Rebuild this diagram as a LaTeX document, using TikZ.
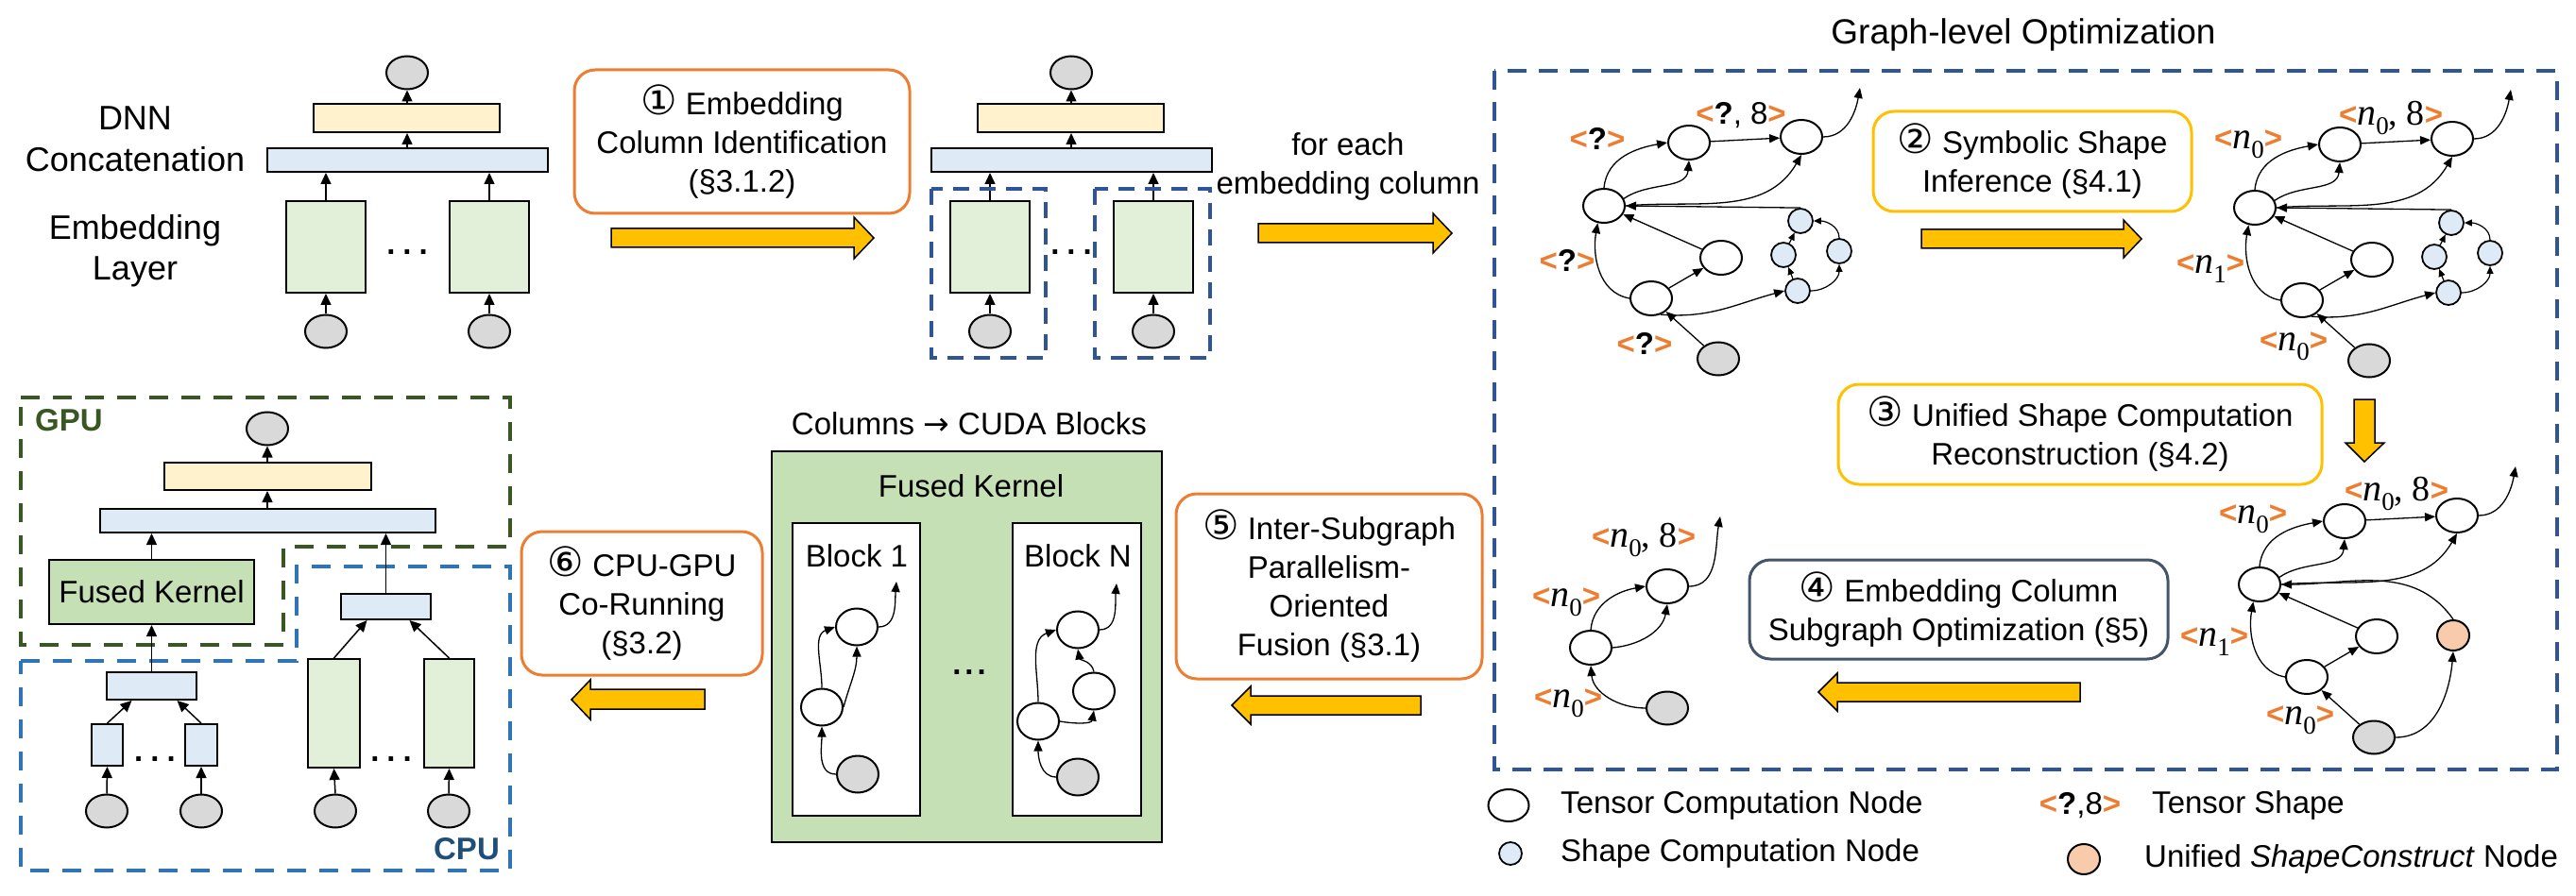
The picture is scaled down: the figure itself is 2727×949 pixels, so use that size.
\documentclass[tikz,border=0pt]{standalone}
\usepackage{fontspec}
\setmainfont{Liberation Sans}
\newfontfamily\dejavu{DejaVu Sans}
\newfontfamily\serifn{Liberation Serif}
\usetikzlibrary{shapes.geometric, arrows.meta}
\definecolor{cOrange}{HTML}{ED7D31}
\definecolor{cYellow}{HTML}{FFC000}
\definecolor{cSlate}{HTML}{44546A}
\definecolor{cDash}{HTML}{2F5597}
\definecolor{cCPU}{HTML}{2E75B6}
\definecolor{cGPU}{HTML}{385723}
\definecolor{cCPUtxt}{HTML}{1F4E79}
\definecolor{cGray}{HTML}{D9D9D9}
\definecolor{cLBlue}{HTML}{DEEBF7}
\definecolor{cLYellow}{HTML}{FFF2CC}
\definecolor{cLGreen}{HTML}{E2F0D9}
\definecolor{cFK}{HTML}{C5E0B4}
\definecolor{cPeach}{HTML}{F8CBAD}
\newcommand\shp[1]{{\color{cOrange}\bfseries<}#1{\color{cOrange}\bfseries>}}
\newcommand\nsym[1]{{\serifn\itshape\fontsize{40}{40}\selectfont n}\raisebox{-0.3em}{\fontsize{27}{27}\selectfont\serifn #1}}
\newcommand\cnum[1]{{\dejavu\fontsize{43}{41}\selectfont #1}}
\newcommand\coldiag[1]{%
 \node[gnode] (#1T) at (431,77) {};
 \node[blk, fill=cLYellow, minimum width=197pt, minimum height=30pt] (#1Y) at (430.5,125) {};
 \node[blk, fill=cLBlue, minimum width=297pt, minimum height=25pt] (#1C) at (431.5,169.5) {};
 \node[blk, fill=cLGreen, minimum width=84pt, minimum height=97pt] (#1L) at (345,261.5) {};
 \node[blk, fill=cLGreen, minimum width=84pt, minimum height=97pt] (#1R) at (518,261.5) {};
 \node[gnode] (#1EL) at (345,351) {};
 \node[gnode] (#1ER) at (518,351) {};
 \node[dotsn] (#1D) at (431,267) {.\hspace{8pt}.\hspace{8pt}.};
 \draw[carr] (#1Y.north -| #1T) -- (#1T.south);
 \draw[carr] (#1C.north -| #1T) -- (#1Y.south -| #1T);
 \draw[carr] (#1L.north) -- (#1L.north |- #1C.south);
 \draw[carr] (#1R.north) -- (#1R.north |- #1C.south);
 \draw[carr] (#1EL.north) -- (#1L.south);
 \draw[carr] (#1ER.north) -- (#1R.south);
}
\newcommand\gcore[1]{%
 \node[tnode] (#1A) at (1698,218) {};
 \node[tnode] (#1B) at (1788,151) {};
 \node[tnode] (#1C) at (1907,145) {};
 \node[tnode] (#1D) at (1822,273) {};
 \node[tnode] (#1E) at (1748,316) {};
 \node[gnode] (#1G) at (1819,380) {};
 \coordinate (#1o) at (1969,93);
 \draw[arr] (#1A.north) to[out=85,in=190] (#1B.west);
 \draw[arr] (#1A.20) to[out=35,in=-95] (#1B.south);
 \draw[arr] (#1B) -- (#1C);
 \draw[arr] (#1A.east) to[out=5,in=-120] (#1C.south);
 \draw[arr] (#1D) -- (#1A);
 \draw[arr] (#1E.west) to[out=170,in=-100] (#1A.250);
 \draw[arr] (#1E) -- (#1D);
 \draw[arr] (#1G) -- (#1E);
 \draw[arr] (#1C.east) to[out=0,in=-100] (#1o);
}
\newcommand\gshape[1]{%
 \node[snode] (#1S1) at (1906,234) {};
 \node[snode] (#1S2) at (1888,270) {};
 \node[snode] (#1S3) at (1947,266) {};
 \node[snode] (#1S4) at (1903,308) {};
 \draw[arr] (#1S1.north) -- (#1A.east);
 \draw[arr] (#1E.-60) to[out=-5,in=195] (#1S4.west);
 \draw[sarr] (#1S4) -- (#1S2);
 \draw[sarr] (#1S2) -- (#1S1);
 \draw[sarr] (#1S4.east) to[out=0,in=-90] (#1S3.south);
 \draw[sarr] (#1S3.north) to[out=90,in=0] (#1S1.east);
}
\begin{document}
\begin{tikzpicture}[x=1pt,y=-1pt,
 txt/.style={font=\fontsize{33}{41}\selectfont, inner sep=0pt, align=center},
 rbox/.style={draw, rounded corners=22pt, line width=3pt, align=center, inner sep=0pt, fill=white, font=\fontsize{33}{41}\selectfont},
 tnode/.style={ellipse, draw, line width=2pt, fill=white, minimum width=44pt, minimum height=36pt, inner sep=0pt},
 gnode/.style={tnode, fill=cGray, minimum height=35pt},
 snode/.style={circle, draw, line width=1.8pt, fill=cLBlue, minimum size=26pt, inner sep=0pt},
 unode/.style={ellipse, draw, line width=2pt, fill=cPeach, minimum width=34pt, minimum height=32pt, inner sep=0pt},
 blk/.style={draw, line width=2pt, inner sep=0pt},
 dotsn/.style={font=\fontsize{33}{41}\selectfont\bfseries, inner sep=0pt},
 arr/.style={-{Triangle[length=11pt,width=9pt]}, line width=1.3pt},
 sarr/.style={-{Triangle[length=8pt,width=7pt]}, line width=1.2pt},
 carr/.style={-{Triangle[length=12pt,width=11pt]}, line width=1.5pt},
 yarr/.style={draw=black, line width=1.5pt, fill=cYellow},
 dbox/.style={draw=cDash, line width=4pt, dash pattern=on 18pt off 12pt},
 shl/.style={font=\fontsize{33}{38}\selectfont, inner sep=0pt},
]
\useasboundingbox (0,0) rectangle (2727,949);

% ---------- top-left: DNN model ----------
\node[font=\fontsize{36}{43}\selectfont, inner sep=0pt] (dnn) at (143,125) {DNN};
\node[font=\fontsize{36}{43}\selectfont, inner sep=0pt] (catl) at (143,169) {Concatenation};
\node[font=\fontsize{36}{43}\selectfont, inner sep=0pt, align=center] (embl) at (143,266) {Embedding\\Layer};
\coldiag{a}

% box 1 and arrow
\node[rbox, draw=cOrange, minimum width=355pt, minimum height=152pt] (b1) at (785.5,150)
 {\cnum{①} Embedding\\Column Identification\\(§3.1.2)};
\draw[yarr] (647,242) -- (904,242) -- (904,230) -- (925,252) -- (904,274) -- (904,262) -- (647,262) -- cycle;

% column diagram 2
\begin{scope}[shift={(703,0)}]
\coldiag{b}
\end{scope}
\draw[dbox, dash pattern=on 17pt off 11pt] (986,200) rectangle (1107,379);
\draw[dbox, dash pattern=on 17pt off 11pt] (1159,200) rectangle (1281,379);

\node[txt] (fe) at (1427,176) {for each\\embedding column};
\draw[yarr] (1332,237) -- (1517,237) -- (1517,226) -- (1537,247) -- (1517,268) -- (1517,257) -- (1332,257) -- cycle;

% ---------- graph-level optimization ----------
\node[font=\fontsize{37}{44}\selectfont, inner sep=0pt] (title) at (2142,37) {Graph-level Optimization};
\draw[dbox, dash pattern=on 20pt off 13pt] (1582,75) rectangle (2707,815);

% graph 1
\gcore{g1}
\gshape{g1}
\node[shl] (l11) at (1691,147) {\shp{\textbf{?}}};
\node[shl] (l12) at (1843,122) {\shp{\textbf{?}, 8}};
\node[shl] (l13) at (1659,276) {\shp{\textbf{?}}};
\node[shl] (l14) at (1741,364) {\shp{\textbf{?}}};

% box 2
\node[rbox, draw=cYellow, minimum width=337pt, minimum height=106pt] (b2) at (2151.5,171)
 {\cnum{②} Symbolic Shape\\Inference (§4.1)};
\draw[yarr] (2034,243) -- (2248,243) -- (2248,233) -- (2267,253) -- (2248,273) -- (2248,263) -- (2034,263) -- cycle;

% graph 2
\begin{scope}[shift={(689,2)}]
\gcore{g2}
\gshape{g2}
\end{scope}
\node[shl] (l21) at (2380,153) {\shp{\nsym{0}}};
\node[shl] (l22) at (2531,125) {\shp{\nsym{0}{\serifn\fontsize{38}{38}\selectfont, 8}}};
\node[shl] (l23) at (2340,285) {\shp{\nsym{1}}};
\node[shl] (l24) at (2428,367) {\shp{\nsym{0}}};

% box 3 and down arrow
\node[rbox, draw=cYellow, minimum width=512pt, minimum height=106pt] (b3) at (2202,460)
 {\cnum{③} Unified Shape Computation\\Reconstruction (§4.2)};
\draw[yarr] (2492,423) -- (2514,423) -- (2514,469) -- (2524,469) -- (2503,489) -- (2483,469) -- (2492,469) -- cycle;

% graph 3
\begin{scope}[shift={(694,401)}]
\gcore{g3}
\node[unode] (g3U) at (1903,272) {};
\draw[arr] (g3U.north) to[out=125,in=0] (g3A.east);
\draw[arr] (g3G.east) to[out=0,in=-95] (g3U.south);
\end{scope}
\node[shl] (l31) at (2385,550) {\shp{\nsym{0}}};
\node[shl] (l32) at (2537,523) {\shp{\nsym{0}{\serifn\fontsize{38}{38}\selectfont, 8}}};
\node[shl] (l33) at (2344,680) {\shp{\nsym{1}}};
\node[shl] (l34) at (2435,763) {\shp{\nsym{0}}};

% box 4 and arrow
\node[rbox, draw=cSlate, minimum width=443pt, minimum height=105pt] (b4) at (2073.5,645.5)
 {\cnum{④} Embedding Column\\Subgraph Optimization (§5)};
\draw[yarr] (2202,723) -- (1945,723) -- (1945,713) -- (1925,733) -- (1945,753) -- (1945,743) -- (2202,743) -- cycle;

% graph 4
\node[tnode] (g4A) at (1684,686) {};
\node[tnode] (g4B) at (1765,621) {};
\node[gnode] (g4G) at (1765,750) {};
\coordinate (g4o) at (1821,547);
\draw[arr] (g4A.north) to[out=85,in=190] (g4B.west);
\draw[arr] (g4A.east) to[out=5,in=-100] (g4B.south);
\draw[arr] (g4G.west) to[out=180,in=-85] (g4A.south);
\draw[arr] (g4B.east) to[out=0,in=-100] (g4o);
\node[shl] (l41) at (1740,572) {\shp{\nsym{0}{\serifn\fontsize{38}{38}\selectfont, 8}}};
\node[shl] (l42) at (1658,638) {\shp{\nsym{0}}};
\node[shl] (l43) at (1660,745) {\shp{\nsym{0}}};

% legend
\node[tnode, minimum width=43pt, minimum height=34pt] (lg1) at (1597,853) {};
\node[txt, anchor=west] (lt1) at (1652,853) {Tensor Computation Node};
\node[snode, minimum size=24pt] (lg2) at (1599,904) {};
\node[txt, anchor=west] (lt2) at (1652,904) {Shape Computation Node};
\node[shl] (lg3) at (2202,853) {\shp{\textbf{?},8}};
\node[txt, anchor=west] (lt3) at (2278,853) {Tensor Shape};
\node[unode] (lg4) at (2206,910) {};
\node[txt, anchor=west] (lt4) at (2270,910) {Unified \textit{ShapeConstruct} Node};

% box 5 and arrow
\node[rbox, draw=cOrange, minimum width=324pt, minimum height=196pt] (b5) at (1407,621)
 {\cnum{⑤} Inter-Subgraph\\Parallelism-\\Oriented\\Fusion (§3.1)};
\draw[yarr] (1504,737) -- (1324,737) -- (1324,727) -- (1304,747) -- (1324,767) -- (1324,757) -- (1504,757) -- cycle;

% ---------- fused kernel ----------
\node[txt] (cols) at (1026,449) {Columns {\dejavu →} CUDA Blocks};
\node[blk, fill=cFK, minimum width=413pt, minimum height=414pt] (fk) at (1023.5,685) {};
\node[txt] (fkl) at (1028,515) {Fused Kernel};
\node[blk, fill=white, minimum width=135pt, minimum height=310pt] (blk1) at (906.5,709) {};
\node[blk, fill=white, minimum width=136pt, minimum height=310pt] (blkN) at (1140,709) {};
\node[txt] (b1l) at (907,589) {Block 1};
\node[txt] (bNl) at (1141,589) {Block N};
\node[dotsn] (fkd) at (1026,712) {.\hspace{4pt}.\hspace{4pt}.};
% block 1 graph
\node[tnode, minimum height=39pt] (k1a) at (907,664) {};
\node[tnode, minimum height=39pt] (k1b) at (870,749) {};
\node[gnode, minimum height=39pt] (k1g) at (908,820) {};
\coordinate (k1o) at (949,616);
\draw[arr] (k1b.north) to[out=90,in=200] (k1a.west);
\draw[arr] (k1b.east) to[out=75,in=-90] (k1a.south);
\draw[arr] (k1g.west) to[out=180,in=-90] (k1b.south);
\draw[arr] (k1a.east) to[out=0,in=-95] (k1o);
% block N graph
\node[tnode, minimum height=39pt] (kNa) at (1141,667) {};
\node[tnode, minimum height=39pt] (kNc) at (1158,732) {};
\node[tnode, minimum height=39pt] (kNb) at (1099,764) {};
\node[gnode, minimum height=39pt] (kNg) at (1141,823) {};
\coordinate (kNo) at (1182,618);
\draw[arr] (kNb.north) to[out=90,in=200] (kNa.west);
\draw[arr] (kNb.east) to[out=-10,in=-100] (kNc.south);
\draw[arr] (kNc.north) to[out=100,in=-80] (kNa.south);
\draw[arr] (kNg.west) to[out=180,in=-90] (kNb.south);
\draw[arr] (kNa.east) to[out=0,in=-95] (kNo);

% box 6 and arrow
\node[rbox, draw=cOrange, minimum width=255pt, minimum height=152pt] (b6) at (679.5,639)
 {\cnum{⑥} CPU-GPU\\Co-Running\\(§3.2)};
\draw[yarr] (746,730) -- (625,730) -- (625,720) -- (605,741) -- (625,762) -- (625,751) -- (746,751) -- cycle;

% ---------- bottom-left: CPU/GPU co-running ----------
\draw[draw=cGPU, line width=4pt, dash pattern=on 20pt off 14pt] (22,421) -- (540,421) -- (540,579) -- (300,579) -- (300,683) -- (22,683) -- cycle;
\draw[draw=cCPU, line width=4pt, dash pattern=on 20pt off 14pt] (22,700) -- (314,700) -- (314,600) -- (540,600) -- (540,922) -- (22,922) -- cycle;
\node[txt, font=\fontsize{33}{41}\selectfont\bfseries, text=cGPU] (gpul) at (73,445) {GPU};
\node[txt, font=\fontsize{33}{41}\selectfont\bfseries, text=cCPUtxt] (cpul) at (494,899) {CPU};

\node[gnode] (cT) at (283,454) {};
\node[blk, fill=cLYellow, minimum width=219pt, minimum height=29pt] (cY) at (283.5,504.5) {};
\node[blk, fill=cLBlue, minimum width=355pt, minimum height=25pt] (cC) at (283.5,551.5) {};
\node[blk, fill=cFK, minimum width=217pt, minimum height=68pt, font=\fontsize{33}{41}\selectfont] (cFK) at (160.5,627) {Fused Kernel};
\node[blk, fill=cLBlue, minimum width=95pt, minimum height=29pt] (cLS) at (160.5,726.5) {};
\node[blk, fill=cLBlue, minimum width=33pt, minimum height=44pt] (cT1) at (113.5,789) {};
\node[blk, fill=cLBlue, minimum width=34pt, minimum height=44pt] (cT2) at (213,789) {};
\node[dotsn] (cD1) at (164,804) {.\hspace{8pt}.\hspace{8pt}.};
\node[gnode] (cE1) at (113,859) {};
\node[gnode] (cE2) at (213,859) {};
\node[blk, fill=cLBlue, minimum width=95pt, minimum height=27pt] (cRS) at (408.5,642.5) {};
\node[blk, fill=cLGreen, minimum width=55pt, minimum height=115pt] (cG1) at (353.5,755.5) {};
\node[blk, fill=cLGreen, minimum width=53pt, minimum height=115pt] (cG2) at (475.5,755.5) {};
\node[dotsn] (cD2) at (414,804) {.\hspace{8pt}.\hspace{8pt}.};
\node[gnode] (cE3) at (355,859) {};
\node[gnode] (cE4) at (475,859) {};
\draw[carr] (cY.north -| cT) -- (cT.south);
\draw[carr] (cC.north -| cT) -- (cY.south -| cT);
\draw[carr] (cFK.north) -- (cFK.north |- cC.south);
\draw[carr] (cRS.north) -- (cRS.north |- cC.south);
\draw[carr] (cLS.north) -- (cFK.south);
\draw[carr] (cT1.north) -- ([xshift=-21pt]cLS.south);
\draw[carr] (cT2.north) -- ([xshift=27pt]cLS.south);
\draw[carr] (cE1.north) -- (cT1.south);
\draw[carr] (cE2.north) -- (cT2.south);
\draw[carr] (cG1.north) -- ([xshift=-20pt]cRS.south);
\draw[carr] (cG2.north) -- ([xshift=25pt]cRS.south);
\draw[carr] (cE3.north) -- (cG1.south);
\draw[carr] (cE4.north) -- (cG2.south);
\end{tikzpicture}
\end{document}
